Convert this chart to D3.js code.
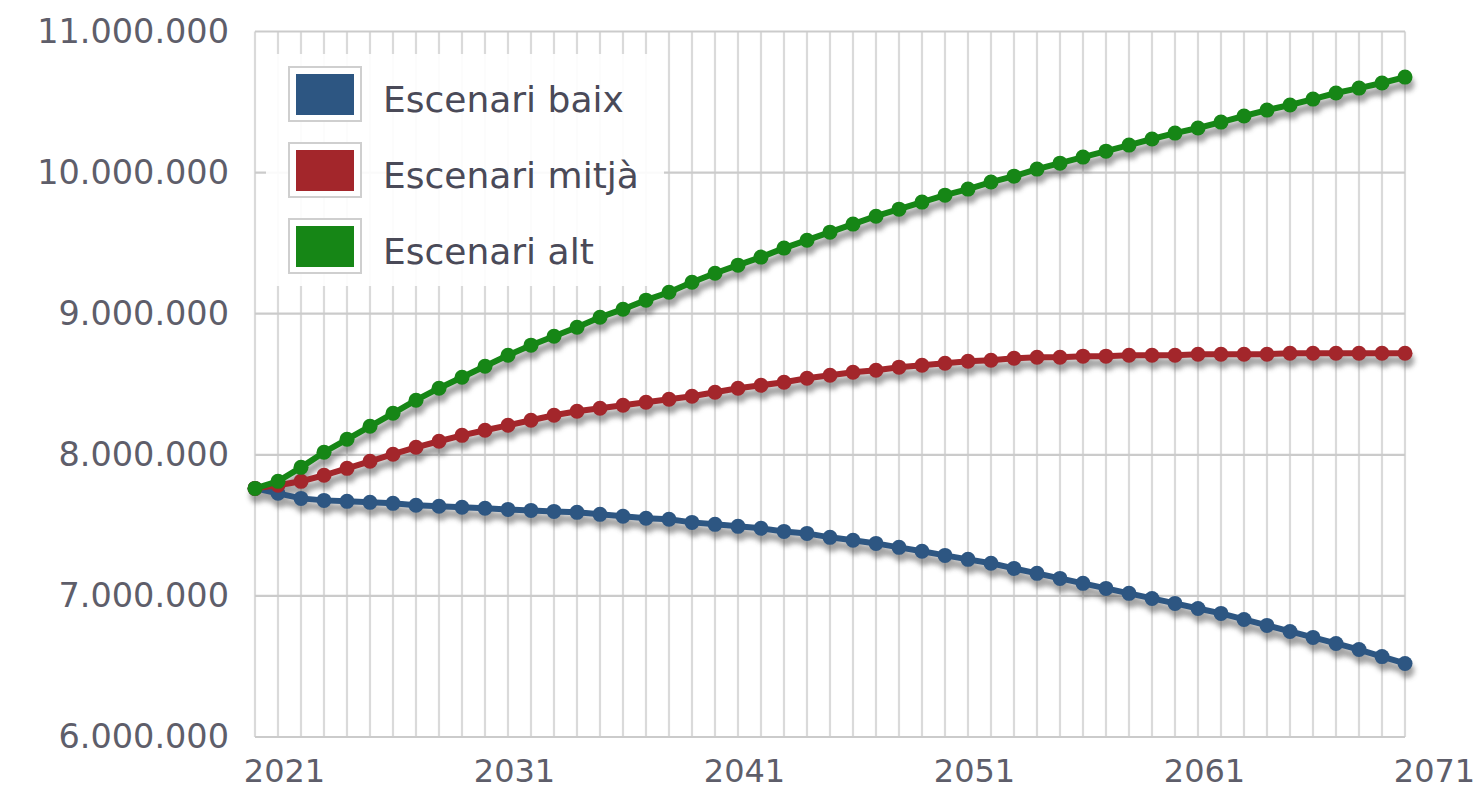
<!DOCTYPE html>
<html>
<head>
<meta charset="utf-8">
<script src="https://cdn.jsdelivr.net/npm/d3@7"></script>
<style>
  body { margin: 0; background: #fff; }
  svg { display: block; }
</style>
</head>
<body>
<svg id="svg_elem"></svg>
<script>
//define constants
const svgWidth = 1480;
const svgHeight = 793;
const plotLeft = 255;
const plotRight = 1405;
const plotTop = 31.5;
const plotBottom = 737;

//define data
const years = d3.range(2021, 2072);
const seriesNames = ['Escenari baix', 'Escenari mitjà', 'Escenari alt'];
const seriesColors = ['#2d5682', '#a3262b', '#168616'];
const xTickLabels = [2021, 2031, 2041, 2051, 2061, 2071];
const yTickValues = [6000000, 7000000, 8000000, 9000000, 10000000, 11000000];

// millions of inhabitants, one value per year
const baix = [7.762, 7.727, 7.691, 7.677, 7.670, 7.663, 7.656, 7.642, 7.635, 7.628,
	7.621, 7.613, 7.606, 7.599, 7.592, 7.578, 7.564, 7.550, 7.543, 7.521,
	7.507, 7.493, 7.479, 7.457, 7.443, 7.415, 7.394, 7.372, 7.344, 7.316,
	7.287, 7.259, 7.231, 7.195, 7.160, 7.124, 7.089, 7.053, 7.018, 6.982,
	6.947, 6.911, 6.876, 6.833, 6.791, 6.748, 6.706, 6.663, 6.620, 6.570,
	6.521];
const mitja = [7.762, 7.784, 7.812, 7.855, 7.904, 7.954, 8.004, 8.053, 8.096, 8.138,
	8.174, 8.209, 8.245, 8.280, 8.309, 8.330, 8.351, 8.372, 8.394, 8.415,
	8.443, 8.472, 8.493, 8.514, 8.543, 8.564, 8.585, 8.599, 8.621, 8.635,
	8.649, 8.663, 8.670, 8.684, 8.691, 8.691, 8.699, 8.699, 8.706, 8.706,
	8.706, 8.713, 8.713, 8.713, 8.713, 8.720, 8.720, 8.720, 8.720, 8.720,
	8.720];
const alt = [7.762, 7.812, 7.911, 8.018, 8.110, 8.202, 8.294, 8.387, 8.472, 8.550,
	8.628, 8.706, 8.777, 8.840, 8.904, 8.975, 9.032, 9.096, 9.152, 9.223,
	9.287, 9.344, 9.401, 9.465, 9.521, 9.578, 9.635, 9.691, 9.741, 9.791,
	9.840, 9.883, 9.933, 9.975, 10.025, 10.067, 10.110, 10.152, 10.195, 10.238,
	10.280, 10.316, 10.358, 10.401, 10.443, 10.479, 10.521, 10.564, 10.599, 10.635,
	10.677];

const seriesValues = [baix, mitja, alt];
const series = seriesValues.map((vals, i) => ({
	name: seriesNames[i],
	color: seriesColors[i],
	points: vals.map((v, j) => ({ year: years[j], value: v * 1e6 }))
}));

//configure svg window
var svg = d3.select('#svg_elem')
	.attr('width', svgWidth)
	.attr('height', svgHeight)
	.style('font-family', '"DejaVu Sans", Verdana, sans-serif');

//scales
var xScale = d3.scaleLinear()
	.domain([years[0], years[years.length - 1]])
	.range([plotLeft, plotRight]);
var yScale = d3.scaleLinear()
	.domain([6000000, 11000000])
	.range([plotBottom, plotTop]);
const step = xScale(years[1]) - xScale(years[0]);

//shadow filter
var defs = svg.append('defs');
defs.append('filter')
	.attr('id', 'shadow')
	.attr('x', '-5%').attr('y', '-20%')
	.attr('width', '110%').attr('height', '140%')
	.append('feGaussianBlur')
	.attr('stdDeviation', 2.6);

//vertical grid, one line per year
svg.append('g')
	.selectAll('line')
	.data(years)
	.enter()
	.append('line')
		.attr('x1', d => xScale(d))
		.attr('x2', d => xScale(d))
		.attr('y1', plotTop)
		.attr('y2', plotBottom)
		.attr('stroke', '#dadada')
		.attr('stroke-width', 2.2);

//horizontal grid
svg.append('g')
	.selectAll('line')
	.data(yTickValues)
	.enter()
	.append('line')
		.attr('x1', plotLeft)
		.attr('x2', plotRight)
		.attr('y1', d => yScale(d))
		.attr('y2', d => yScale(d))
		.attr('stroke', '#cbcbcb')
		.attr('stroke-width', 2.2);

//y axis labels
const fmt = d3.formatLocale({ decimal: ',', thousands: '.', grouping: [3], currency: ['', ''] }).format(',d');
var yAxis = d3.axisLeft(yScale)
	.tickValues(yTickValues)
	.tickFormat(fmt)
	.tickSize(0)
	.tickPadding(26);
svg.append('g')
	.attr('transform', `translate(${plotLeft}, 0)`)
	.call(yAxis)
	.call(g => g.select('.domain').remove())
	.selectAll('text')
		.attr('fill', '#5e5e6a')
		.style('font-size', '33.5px')
		.style('font-family', '"DejaVu Sans", Verdana, sans-serif');

//x axis labels, drawn one slot to the right like the original
var xAxis = d3.axisBottom(xScale)
	.tickValues(xTickLabels)
	.tickFormat(d3.format('d'))
	.tickSize(0)
	.tickPadding(22);
svg.append('g')
	.attr('transform', `translate(${step + 6}, ${plotBottom})`)
	.call(xAxis)
	.call(g => g.select('.domain').remove())
	.selectAll('text')
		.attr('fill', '#5e5e6a')
		.style('font-size', '32px')
		.style('font-family', '"DejaVu Sans", Verdana, sans-serif');

//line generator
var line = d3.line()
	.x(d => xScale(d.year))
	.y(d => yScale(d.value));

//shadows first
var shadows = svg.append('g')
	.attr('transform', 'translate(2, 7)')
	.attr('filter', 'url(#shadow)')
	.attr('opacity', 0.5);
series.forEach(s => {
	shadows.append('path')
		.datum(s.points)
		.attr('d', line)
		.attr('fill', 'none')
		.attr('stroke', '#4a4a4a')
		.attr('stroke-width', 8);
	shadows.selectAll(null)
		.data(s.points)
		.enter()
		.append('circle')
			.attr('cx', d => xScale(d.year))
			.attr('cy', d => yScale(d.value))
			.attr('r', 7.5)
			.attr('fill', '#4a4a4a');
});

//series lines and markers (draw low first, high last)
series.forEach(s => {
	var g = svg.append('g');
	g.append('path')
		.datum(s.points)
		.attr('d', line)
		.attr('fill', 'none')
		.attr('stroke', s.color)
		.attr('stroke-width', 6);
	g.selectAll('circle')
		.data(s.points)
		.enter()
		.append('circle')
			.attr('cx', d => xScale(d.year))
			.attr('cy', d => yScale(d.value))
			.attr('r', 7.5)
			.attr('fill', s.color);
});

//legend
var legend = svg.append('g');
legend.append('rect')
	.attr('x', 266)
	.attr('y', 54)
	.attr('width', 398)
	.attr('height', 232)
	.attr('fill', '#fff')
	.attr('opacity', 0.9);

var items = legend.selectAll('.item')
	.data(series)
	.enter()
	.append('g')
		.classed('item', true)
		.attr('transform', (d, i) => `translate(288, ${66 + i * 76})`);
items.append('rect')
	.attr('x', 1)
	.attr('y', 1)
	.attr('width', 72)
	.attr('height', 54)
	.attr('fill', '#fff')
	.attr('stroke', '#cfcfcf')
	.attr('stroke-width', 2);
items.append('rect')
	.attr('x', 8)
	.attr('y', 8)
	.attr('width', 58)
	.attr('height', 41)
	.attr('fill', d => d.color);
items.append('text')
	.text(d => d.name)
	.attr('x', 95)
	.attr('y', 46)
	.attr('fill', '#4a4a58')
	.style('font-size', '36px');
</script>
</body>
</html>
